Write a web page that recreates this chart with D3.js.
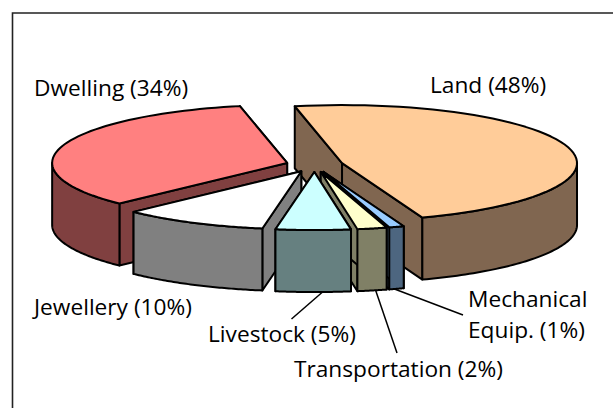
<!DOCTYPE html>
<html>
<head>
<meta charset="utf-8">
<script src="https://cdn.jsdelivr.net/npm/d3@7"></script>
<style>
  html, body { margin: 0; padding: 0; background: #fff; }
  svg { display: block; }
  text { font-family: 'Open Sans', sans-serif; font-size: 22.7px; fill: #000; }
</style>
</head>
<body>
<div id="chart"></div>
<script>
const categories = ['Land', 'Mechanical Equip.', 'Transportation', 'Livestock', 'Jewellery', 'Dwelling'];
// labels round these; unrounded shares estimated from the slice edges
const shares = [47.67, 1.03, 2.03, 5.14, 10, 34.13];
const topColors = ['#ffcc99', '#99ccff', '#ffffcc', '#ccffff', '#ffffff', '#ff8080'];
const sideColors = ['#806650', '#4d6680', '#808066', '#668080', '#808080', '#804040'];
// painter's order, back to front
const drawOrder = [0, 5, 4, 1, 2, 3];

const width = 613;
const height = 408;
const center = { x: 314.5, y: 165 };
const rx = 235;
const ry = 58;
const depth = 62;
const explode = 28.6;
const startDeg = -11.6;

const svg = d3.select('#chart').append('svg')
  .attr('width', width)
  .attr('height', height);

// frame only shows on the top and left
svg.append('path')
  .attr('d', d3.line()([[12.5, height], [12.5, 13], [width, 13]]))
  .attr('fill', 'none')
  .attr('stroke', '#222')
  .attr('stroke-width', 1.6);

const rad = d => d * Math.PI / 180;

const pie = d3.pie()
  .sort(null)
  .startAngle(rad(startDeg))
  .endAngle(rad(startDeg + 360));

const arcs = pie(shares).map((d, i) => {
  const mid = (d.startAngle + d.endAngle) / 2;
  return {
    i,
    a0: d.startAngle,
    a1: d.endAngle,
    cx: center.x + explode * Math.sin(mid),
    cy: center.y - explode * (ry / rx) * Math.cos(mid),
  };
});

const line = d3.line();

function rim(s, a, drop = 0) {
  return [s.cx + rx * Math.sin(a), s.cy - ry * Math.cos(a) + drop];
}

function rimPoints(s, a0, a1, drop = 0) {
  return d3.range(0, 61).map(k => rim(s, a0 + (a1 - a0) * k / 60, drop));
}

const g = svg.append('g')
  .attr('stroke', '#000')
  .attr('stroke-width', 2)
  .attr('stroke-linejoin', 'round');

function face(pts, fill) {
  g.append('path')
    .attr('d', line(pts) + 'Z')
    .attr('fill', fill);
}

drawOrder.forEach((idx) => {
  const s = arcs[idx];
  const side = sideColors[idx];
  const apex = [s.cx, s.cy];
  const apexLow = [s.cx, s.cy + depth];

  // cut faces, the rim and top go over them
  [s.a1, s.a0].forEach((a) => {
    face([apex, rim(s, a), rim(s, a, depth), apexLow], side);
  });

  // outer wall, only the part that faces front
  const w0 = Math.max(s.a0, rad(90));
  const w1 = Math.min(s.a1, rad(270));
  if (w1 > w0) {
    face(rimPoints(s, w0, w1).concat(rimPoints(s, w1, w0, depth)), side);
  }

  face([apex].concat(rimPoints(s, s.a0, s.a1)), topColors[idx]);
});

// labels sit by hand, as the original ones do
const labelLines = [
  ['Land (48%)'],
  ['Mechanical', 'Equip. (1%)'],
  ['Transportation (2%)'],
  ['Livestock (5%)'],
  ['Jewellery (10%)'],
  ['Dwelling (34%)'],
];
const labelX = [430, 468, 294, 208, 34, 34];
const labelY = [93, 307, 377, 342, 315, 96];
const leaderDeg = [null, 162.4, 166.5, 178, null, null];
const leaderEnd = [null, [463, 315], [397, 353], [291.5, 319], null, null];

const labelsG = svg.append('g');

labelLines.forEach((rows, i) => {
  rows.forEach((row, j) => {
    labelsG.append('text')
      .attr('x', labelX[i])
      .attr('y', labelY[i] + j * 31)
      .text(row);
  });
  if (leaderEnd[i]) {
    labelsG.append('path')
      .attr('d', line([rim(arcs[i], rad(leaderDeg[i]), depth), leaderEnd[i]]))
      .attr('fill', 'none')
      .attr('stroke', '#000')
      .attr('stroke-width', 1.5);
  }
});
</script>
</body>
</html>
